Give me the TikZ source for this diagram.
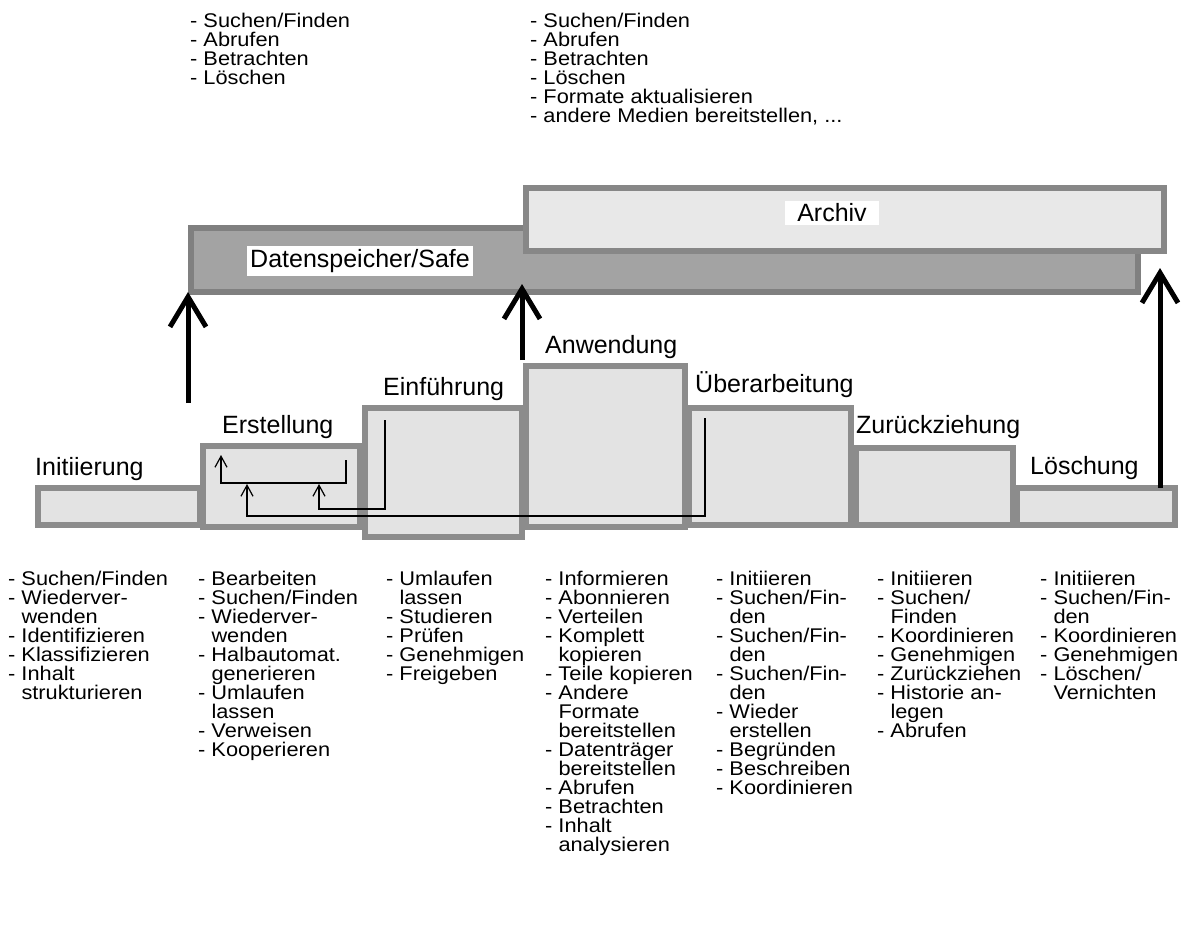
\documentclass[tikz,border=0pt]{standalone}
\usepackage{fontspec}
\setmainfont{Liberation Sans}
\newfontfamily\lstface{Liberation Sans}[FakeStretch=1.1]
\usetikzlibrary{arrows.meta}
\newcommand{\hg}{\hphantom{- }}
\newcommand{\lstfont}{\lstface\fontsize{19.8}{19}\selectfont\lineskiplimit=-30pt\relax}

\begin{document}
\begin{tikzpicture}[x=1pt, y=-1pt,
  stage/.style={draw=black!45, fill=black!11, line width=6pt, inner sep=0pt, outer sep=0pt},
  store/.style={draw=black!50, fill=black!36, line width=6pt, inner sep=0pt, outer sep=0pt},
  arch/.style={draw=black!47, fill=black!9, line width=6pt, inner sep=0pt, outer sep=0pt},
  tag/.style={fill=white, inner sep=3pt, font=\fontsize{25}{27}\selectfont},
  lbl/.style={anchor=base west, inner sep=0pt, font=\fontsize{25}{27}\selectfont},
  lst/.style={anchor=north west, inner sep=0pt, align=left, font=\lstfont},
  flow/.style={line width=1.2pt, -{Straight Barb[length=11pt,width=12pt]}},
  lift/.style={line width=5pt, -{Straight Barb[length=30pt,width=36pt]}}]
\useasboundingbox (0,0) rectangle (1196,936);

\node[store, minimum width=947, minimum height=64] (safe) at (664.5,260) {};
\node[arch, minimum width=638, minimum height=63] (arch) at (845,219.5) {};
\node[tag] (safelbl) at (360,261) {Datenspeicher/Safe};
\node[tag, inner xsep=12pt] (archlbl) at (832,213) {Archiv};

\node[stage, minimum width=162, minimum height=37] (init) at (119,506.5) {};
\node[stage, minimum width=157, minimum height=81] (erst) at (281.5,486.5) {};
\node[stage, minimum width=162, minimum height=117] (ueber) at (770,466.5) {};
\node[stage, minimum width=157, minimum height=77] (zur) at (934.5,486.5) {};
\node[stage, minimum width=158, minimum height=37] (loesch) at (1096,506.5) {};
\node[stage, minimum width=159, minimum height=161] (anw) at (605.5,446.5) {};
\node[stage, minimum width=157, minimum height=129] (einf) at (443.5,472.5) {};

\node[lbl] (initlbl) at (35,475) {Initiierung};
\node[lbl] (erstlbl) at (222,433) {Erstellung};
\node[lbl] (einflbl) at (383,395) {Einführung};
\node[lbl] (anwlbl) at (545,353) {Anwendung};
\node[lbl] (ueberlbl) at (695,392) {Überarbeitung};
\node[lbl] (zurlbl) at (856,433) {Zurückziehung};
\node[lbl] (loeschlbl) at (1030,474) {Löschung};

\coordinate (e1) at (346,460);
\coordinate (e2) at (221,455);
\coordinate (f1) at (385,420);
\coordinate (f2) at (319,484);
\coordinate (u1) at (705,418);
\coordinate (u2) at (247,484);
\draw[flow] (e1) |- (221,483) -- (e2);
\draw[flow] (f1) |- (319,509) -- (f2);
\draw[flow] (u1) |- (247,516) -- (u2);

\coordinate (a1) at (188,403);
\coordinate (a2) at (522,360);
\coordinate (a3) at (1160,488);
\coordinate (t3) at (1160,268);
\draw[lift] (a1) -- (a1 |- safe.south);
\draw[lift] (a2) -- (522,284);
\draw[lift] (a3) -- (t3);

\node[lst] (topsafe) at (190,13) {- Suchen/Finden\\- Abrufen\\- Betrachten\\- Löschen};
\node[lst] (toparch) at (530,13) {- Suchen/Finden\\- Abrufen\\- Betrachten\\- Löschen\\- Formate aktualisieren\\- andere Medien bereitstellen, ...};

\node[lst] (initlst) at (8,571) {- Suchen/Finden\\- Wiederver-\\\hg wenden\\- Identifizieren\\- Klassifizieren\\- Inhalt\\\hg strukturieren};
\node[lst] (erstlst) at (198,571) {- Bearbeiten\\- Suchen/Finden\\- Wiederver-\\\hg wenden\\- Halbautomat.\\\hg generieren\\- Umlaufen\\\hg lassen\\- Verweisen\\- Kooperieren};
\node[lst] (einflst) at (386,571) {- Umlaufen\\\hg lassen\\- Studieren\\- Prüfen\\- Genehmigen\\- Freigeben};
\node[lst] (anwlst) at (545,571) {- Informieren\\- Abonnieren\\- Verteilen\\- Komplett\\\hg kopieren\\- Teile kopieren\\- Andere\\\hg Formate\\\hg bereitstellen\\- Datenträger\\\hg bereitstellen\\- Abrufen\\- Betrachten\\- Inhalt\\\hg analysieren};
\node[lst] (ueberlst) at (716,571) {- Initiieren\\- Suchen/Fin-\\\hg den\\- Suchen/Fin-\\\hg den\\- Suchen/Fin-\\\hg den\\- Wieder\\\hg erstellen\\- Begründen\\- Beschreiben\\- Koordinieren};
\node[lst] (zurlst) at (877,571) {- Initiieren\\- Suchen/\\\hg Finden\\- Koordinieren\\- Genehmigen\\- Zurückziehen\\- Historie an-\\\hg legen\\- Abrufen};
\node[lst] (loeschlst) at (1040,571) {- Initiieren\\- Suchen/Fin-\\\hg den\\- Koordinieren\\- Genehmigen\\- Löschen/\\\hg Vernichten};
\end{tikzpicture}
\end{document}
